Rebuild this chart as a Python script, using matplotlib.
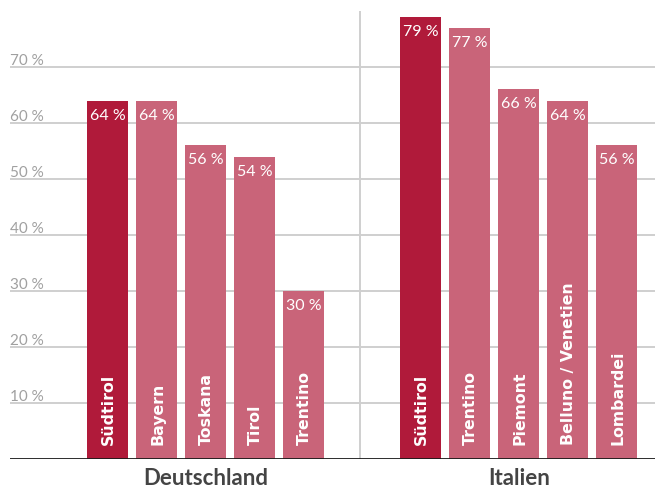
import matplotlib
matplotlib.use("Agg")
import matplotlib.pyplot as plt

plt.rcParams['font.family'] = ['Lato', 'DejaVu Sans']

# Data
groups = ["Deutschland", "Italien"]
regions_de = ["Südtirol", "Bayern", "Toskana", "Tirol", "Trentino"]
values_de = [64, 64, 56, 54, 30]
regions_it = ["Südtirol", "Trentino", "Piemont", "Belluno / Venetien", "Lombardei"]
values_it = [79, 77, 66, 64, 56]
yticks = [10, 20, 30, 40, 50, 60, 70]

DARK = "#B01A3A"
LIGHT = "#C96479"
GRID = "#CFCFCF"

fig = plt.figure(figsize=(6.61, 4.89), dpi=100)
W, H = 661, 489
ax = fig.add_axes([10 / W, (H - 460) / H, 645 / W, 448 / H])

group_gap = 2.39
x_de = [i for i in range(len(values_de))]
x_it = [len(values_de) - 1 + group_gap + i for i in range(len(values_it))]
xmin, xmax = -1.99, 11.17
ax.set_xlim(xmin, xmax)
ax.set_ylim(0, 80)
ax.axis("off")

# horizontal grid with labels
for v in yticks:
    ax.axhline(v, color=GRID, lw=1.4, zorder=0)
    ax.text(xmin, v + 0.55, f"{v} %", ha="left", va="baseline",
            color="#A0A0A0", fontsize=11, zorder=1)

# group divider
divider = (x_de[-1] + x_it[0]) / 2 - 0.05
ax.plot([divider, divider], [0, 80], color=GRID, lw=1.4, zorder=0,
        solid_capstyle="butt")

def draw_group(xs, names, vals):
    colors = [DARK] + [LIGHT] * (len(vals) - 1)
    bars = ax.bar(xs, vals, width=0.84, color=colors, zorder=2)
    for b, name, v in zip(bars, names, vals):
        cx = b.get_x() + b.get_width() / 2
        ax.text(cx, v - 2.5, f"{v} %", ha="center", va="center",
                color="white", fontsize=11.5, zorder=3)
        ax.text(cx + 0.02, 2.6, name, ha="center", va="bottom", rotation=90,
                color="white", fontsize=11.3, fontweight="bold",
                family=["DejaVu Sans"], zorder=3)

draw_group(x_de, regions_de, values_de)
draw_group(x_it, regions_it, values_it)

# baseline
ax.axhline(0, color="#1A1A1A", lw=2, zorder=4)

# group labels
for xs, g in zip([x_de, x_it], groups):
    ax.text((xs[0] + xs[-1]) / 2, -3.3, g, ha="center", va="center",
            color="#444444", fontsize=16, fontweight="bold", clip_on=False)

fig.savefig("out.png", dpi=100)
